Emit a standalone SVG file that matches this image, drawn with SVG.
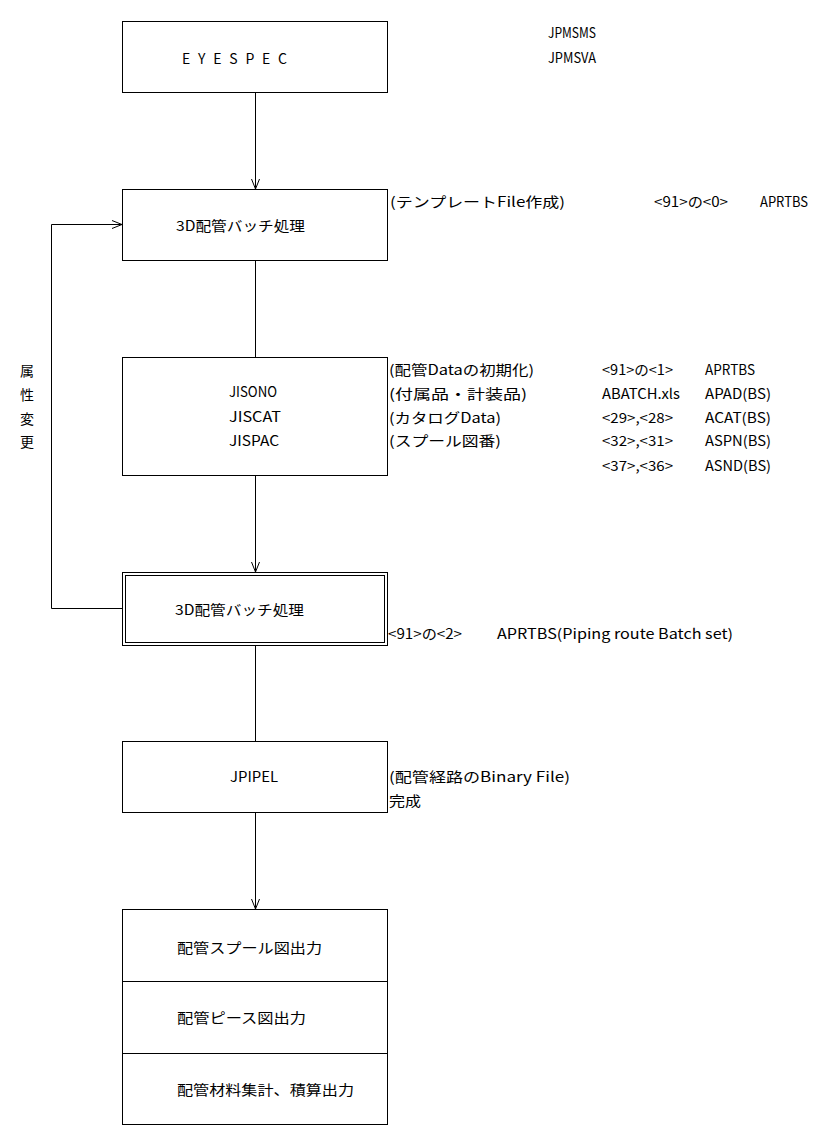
<svg xmlns="http://www.w3.org/2000/svg" width="817" height="1132" viewBox="0 0 817 1132">
<style>
.box{fill:#fff;stroke:#000;stroke-width:1}
.ln{fill:none;stroke:#000;stroke-width:1}
text{font-family:"Noto Sans CJK JP","Noto Sans CJK SC",sans-serif;font-size:14px;fill:#000}
</style>
<defs>
<marker id="arr" markerWidth="12" markerHeight="10" refX="10" refY="5" orient="auto" markerUnits="userSpaceOnUse">
<polyline points="0,1 10,5 0,9" fill="none" stroke="#000" stroke-width="1"/>
</marker>
</defs>
<rect width="817" height="1132" fill="#fff"/>
<g id="connectors">
<line class="ln" x1="255.5" y1="92" x2="255.5" y2="189" marker-end="url(#arr)"/>
<line class="ln" x1="255.5" y1="261" x2="255.5" y2="357"/>
<line class="ln" x1="255.5" y1="476" x2="255.5" y2="572" marker-end="url(#arr)"/>
<line class="ln" x1="255.5" y1="646" x2="255.5" y2="741"/>
<line class="ln" x1="255.5" y1="813" x2="255.5" y2="909" marker-end="url(#arr)"/>
<polyline class="ln" points="122,608.5 51.5,608.5 51.5,224.5 122,224.5" marker-end="url(#arr)"/>
</g>
<g id="label-attr">
<text x="20" y="376">属</text>
<text x="20" y="400">性</text>
<text x="20" y="424">変</text>
<text x="20" y="447">更</text>
</g>
<g id="node-eyespec">
<rect class="box" x="122.5" y="21.5" width="265" height="71"/>
<text x="182" y="64" textLength="105" lengthAdjust="spacing">EYESPEC</text>
</g>
<g id="note-jpms">
<text x="548" y="38" textLength="48" lengthAdjust="spacingAndGlyphs">JPMSMS</text>
<text x="548" y="63" textLength="48" lengthAdjust="spacingAndGlyphs">JPMSVA</text>
</g>
<g id="node-batch1">
<rect class="box" x="122.5" y="189.5" width="265" height="71"/>
<text x="176" y="231" textLength="129" lengthAdjust="spacingAndGlyphs">3D配管バッチ処理</text>
</g>
<g id="note-batch1">
<text x="390" y="207" textLength="175" lengthAdjust="spacingAndGlyphs">(テンプレートFile作成)</text>
<text x="654" y="207" textLength="74" lengthAdjust="spacingAndGlyphs">&lt;91&gt;の&lt;0&gt;</text>
<text x="760" y="207" textLength="48" lengthAdjust="spacingAndGlyphs">APRTBS</text>
</g>
<g id="node-jis">
<rect class="box" x="122.5" y="357.5" width="265" height="118"/>
<text x="229" y="397" textLength="48" lengthAdjust="spacingAndGlyphs">JISONO</text>
<text x="229" y="422" textLength="52" lengthAdjust="spacingAndGlyphs">JISCAT</text>
<text x="229" y="446" textLength="50" lengthAdjust="spacingAndGlyphs">JISPAC</text>
</g>
<g id="note-jis">
<text x="389" y="375" textLength="145" lengthAdjust="spacingAndGlyphs">(配管Dataの初期化)</text>
<text x="389" y="399" textLength="138" lengthAdjust="spacingAndGlyphs">(付属品・計装品)</text>
<text x="389" y="423" textLength="112" lengthAdjust="spacingAndGlyphs">(カタログData)</text>
<text x="389" y="446" textLength="112" lengthAdjust="spacingAndGlyphs">(スプール図番)</text>
<text x="602" y="375" textLength="71" lengthAdjust="spacingAndGlyphs">&lt;91&gt;の&lt;1&gt;</text>
<text x="602" y="399" textLength="78" lengthAdjust="spacingAndGlyphs">ABATCH.xls</text>
<text x="602" y="423" textLength="71" lengthAdjust="spacingAndGlyphs">&lt;29&gt;,&lt;28&gt;</text>
<text x="602" y="446" textLength="71" lengthAdjust="spacingAndGlyphs">&lt;32&gt;,&lt;31&gt;</text>
<text x="602" y="471" textLength="71" lengthAdjust="spacingAndGlyphs">&lt;37&gt;,&lt;36&gt;</text>
<text x="705" y="375" textLength="50" lengthAdjust="spacingAndGlyphs">APRTBS</text>
<text x="705" y="399" textLength="66" lengthAdjust="spacingAndGlyphs">APAD(BS)</text>
<text x="705" y="423" textLength="66" lengthAdjust="spacingAndGlyphs">ACAT(BS)</text>
<text x="705" y="446" textLength="66" lengthAdjust="spacingAndGlyphs">ASPN(BS)</text>
<text x="705" y="471" textLength="66" lengthAdjust="spacingAndGlyphs">ASND(BS)</text>
</g>
<g id="node-batch2">
<rect class="box" x="122.5" y="572.5" width="265" height="73"/>
<rect class="box" x="125.5" y="575.5" width="259" height="67"/>
<text x="175" y="615" textLength="129" lengthAdjust="spacingAndGlyphs">3D配管バッチ処理</text>
</g>
<g id="note-batch2">
<text x="388" y="639" textLength="74" lengthAdjust="spacingAndGlyphs">&lt;91&gt;の&lt;2&gt;</text>
<text x="497" y="639" textLength="236" lengthAdjust="spacingAndGlyphs">APRTBS(Piping route Batch set)</text>
</g>
<g id="node-jpipel">
<rect class="box" x="122.5" y="741.5" width="265" height="71"/>
<text x="230" y="782" textLength="48" lengthAdjust="spacingAndGlyphs">JPIPEL</text>
</g>
<g id="note-jpipel">
<text x="389" y="782" textLength="181" lengthAdjust="spacingAndGlyphs">(配管経路のBinary File)</text>
<text x="389" y="806" textLength="32" lengthAdjust="spacingAndGlyphs">完成</text>
</g>
<g id="node-output">
<rect class="box" x="122.5" y="909.5" width="265" height="215"/>
<line class="ln" x1="122" y1="981.5" x2="387" y2="981.5"/>
<line class="ln" x1="122" y1="1053.5" x2="387" y2="1053.5"/>
<text x="177" y="953" textLength="145" lengthAdjust="spacingAndGlyphs">配管スプール図出力</text>
<text x="177" y="1023" textLength="129" lengthAdjust="spacingAndGlyphs">配管ピース図出力</text>
<text x="177" y="1095" textLength="177" lengthAdjust="spacingAndGlyphs">配管材料集計、積算出力</text>
</g>
</svg>
